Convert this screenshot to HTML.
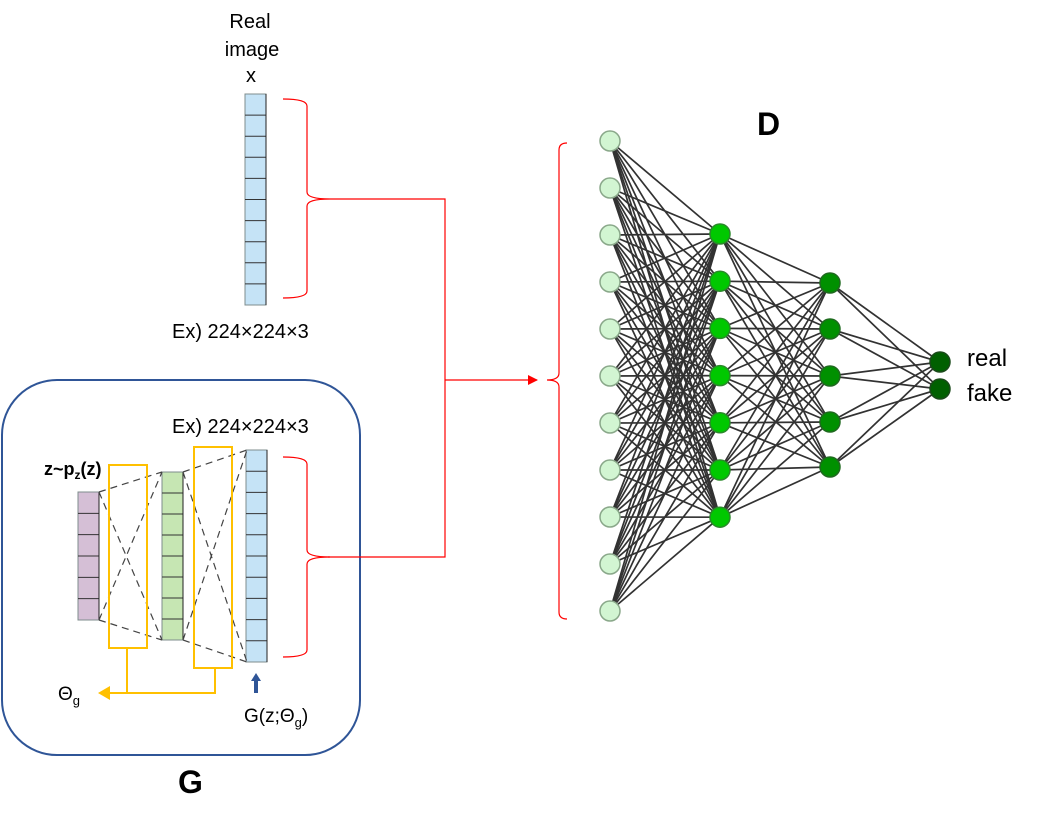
<!DOCTYPE html>
<html><head><meta charset="utf-8"><style>
html,body{margin:0;padding:0;background:#fff;}
svg{display:block;}
text{font-family:"Liberation Sans","Noto Sans CJK KR",sans-serif;}
</style></head><body>
<svg id="s" width="1039" height="824" viewBox="0 0 1039 824" xmlns="http://www.w3.org/2000/svg">
<defs>
<marker id="ar" markerWidth="10" markerHeight="10" refX="9" refY="5" orient="auto" markerUnits="userSpaceOnUse"><path d="M0,0 L10,5 L0,10 z" fill="#f00"/></marker>
</defs>
<g id="net" stroke="#000" stroke-width="1.7" opacity="0.8"></g>
<g id="nodes"></g>

<rect x="2" y="380" width="358" height="375" rx="55" ry="55" fill="none" stroke="#2f5597" stroke-width="2"/>

<g id="realcol"></g>
<text x="250" y="28" font-size="20" text-anchor="middle">Real</text>
<text x="252" y="56" font-size="20" text-anchor="middle">image</text>
<text x="251" y="82" font-size="20" text-anchor="middle">x</text>
<text x="172" y="338" font-size="20">Ex)  224×224×3</text>

<g fill="none" stroke="#f00" stroke-width="1.2">
<path d="M283,99 Q307,99 307,106 L307,192 Q307,199 330,199 Q307,199 307,206 L307,291 Q307,298 283,298"/>
<path d="M283,457 Q307,457 307,464 L307,550 Q307,557 330,557 Q307,557 307,564 L307,650 Q307,657 283,657"/>
<path d="M567,143 Q559,143 559,150 L559,373 Q559,380 547,380 Q559,380 559,387 L559,612 Q559,619 567,619"/>
<path d="M330,199 L445,199 L445,557 L328,557"/>
<path d="M445,380 L537,380" marker-end="url(#ar)"/>
</g>

<g id="gcols"></g>
<g fill="none" stroke="#444" stroke-width="1.2" stroke-dasharray="7,5">
<path d="M99,492 L162,472 M99,492 L162,640 M99,620 L162,472 M99,620 L162,640"/>
<path d="M183,472 L247,450 M183,472 L247,662 M183,640 L247,450 M183,640 L247,662"/>
</g>
<g fill="none" stroke="#ffc000" stroke-width="2">
<rect x="109" y="465" width="38" height="183"/>
<rect x="194" y="447" width="38" height="221"/>
<path d="M127,648 L127,692 M215,668 L215,693 L108,693"/>
</g>
<path d="M98,693 L110,686 L110,700 z" fill="#ffc000"/>
<path d="M256,673 L261,681 L258,681 L258,693 L254,693 L254,681 L251,681 z" fill="#2f5597"/>

<text x="172" y="433" font-size="20">Ex)  224×224×3</text>
<text x="44" y="475" font-size="18" font-weight="bold">z~p<tspan font-size="12" dy="4">z</tspan><tspan dy="-4">(z)</tspan></text>
<text x="58" y="700" font-size="19">Θ<tspan font-size="13" dy="5">g</tspan></text>
<text x="244" y="722" font-size="19">G(z;Θ<tspan font-size="13" dy="5">g</tspan><tspan dy="-5">)</tspan></text>
<text x="178" y="793" font-size="32" font-weight="bold">G</text>
<text x="757" y="135" font-size="32" font-weight="bold">D</text>
<text x="967" y="366" font-size="24">real</text>
<text x="967" y="401" font-size="24">fake</text>
</svg>
<script>
var NS="http://www.w3.org/2000/svg";
function el(p,t,a){var e=document.createElementNS(NS,t);for(var k in a)e.setAttribute(k,a[k]);p.appendChild(e);return e;}
function col(p,x,y1,y2,n,fill){
  el(p,"rect",{x:x,y:y1,width:21,height:y2-y1,fill:fill,stroke:"#7f8c8d","stroke-width":1});
  var h=(y2-y1)/n;for(var i=1;i<n;i++)el(p,"line",{x1:x,x2:x+21,y1:y1+i*h,y2:y1+i*h,stroke:"#333","stroke-width":1});
  el(p,"line",{x1:x+21,x2:x+21,y1:y1,y2:y2,stroke:"#222","stroke-width":1});
}
col(document.getElementById("realcol"),245,94,305,10,"#c5e3f6");
var g=document.getElementById("gcols");
col(g,78,492,620,6,"#d5bfd6");
col(g,162,472,640,8,"#c6e6b3");
col(g,246,450,662,10,"#c5e3f6");
var L=[[],[],[],[]];
for(var i=0;i<11;i++)L[0].push([610,141+i*47]);
for(var i=0;i<7;i++)L[1].push([720,234+i*47.2]);
[283,329,376,422,467].forEach(function(y){L[2].push([830,y]);});
L[3]=[[940,362],[940,389]];
var net=document.getElementById("net");
for(var k=0;k<3;k++)L[k].forEach(function(a){L[k+1].forEach(function(b){el(net,"line",{x1:a[0],y1:a[1],x2:b[0],y2:b[1]});});});
var nd=document.getElementById("nodes");
var cs=[["#d2f5d2","#8aa88a",10],["#00c800","#2a8a2a",10],["#009000","#1f6a1f",10],["#006000","#1a4a1a",10]];
for(var k=0;k<4;k++)L[k].forEach(function(a){el(nd,"circle",{cx:a[0],cy:a[1],r:cs[k][2],fill:cs[k][0],stroke:cs[k][1],"stroke-width":1.5});});
</script>
</body></html>
